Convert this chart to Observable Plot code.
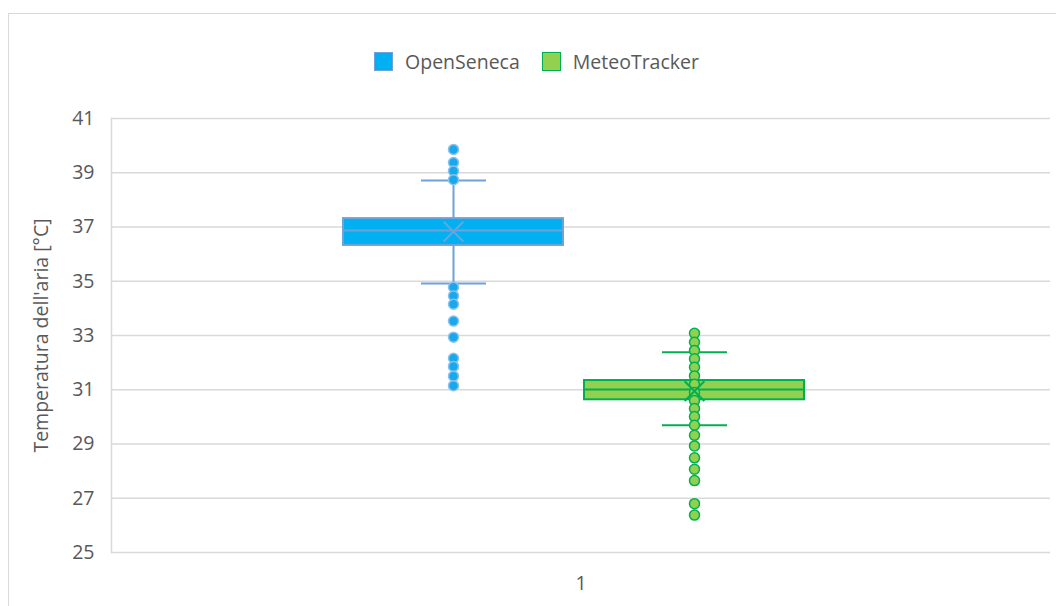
<!DOCTYPE html>
<html>
<head>
<meta charset="utf-8">
<script src="https://cdn.jsdelivr.net/npm/d3@7"></script>
<script src="https://cdn.jsdelivr.net/npm/@observablehq/plot@0.6"></script>
<style>
  html, body { margin: 0; padding: 0; background: #fff; overflow: hidden; }
  body { width: 1056px; height: 606px; position: relative; font-family: "Open Sans", sans-serif; }
  #frame { position: absolute; left: 8px; top: 13px; width: 1200px; height: 700px; border: 1.5px solid #d9d9d9; }
  #legend { position: absolute; left: 0; top: 48px; width: 1056px; display: flex; justify-content: center; font-size: 19.5px; color: #595959; padding-left: 17px; box-sizing: border-box; }
  .item { display: flex; align-items: center; margin: 0 11px; }
  .sw { width: 19px; height: 19px; box-sizing: border-box; margin-right: 12px; }
  #chart { position: absolute; left: 0; top: 0; }
</style>
</head>
<body>
<div id="frame"></div>
<div id="legend"></div>
<div id="chart"></div>
<script>
// ---- data ----
const category = "1";
const seriesNames = ["OpenSeneca", "MeteoTracker"];
const q1 = [36.32, 30.63];
const median = [36.87, 31.01];
const q3 = [37.31, 31.34];
const whiskerLow = [34.92, 29.69];
const whiskerHigh = [38.71, 32.38];
const meanValues = [36.83, 30.95];
const pointsOpenSeneca = [39.86, 39.38, 39.06, 38.74, 34.78, 34.46, 34.15, 33.53, 32.94, 32.16, 31.86, 31.50, 31.15];
const pointsMeteoTracker = [33.08, 32.75, 32.45, 32.14, 31.83, 31.51, 31.20, 30.90, 30.60, 30.31, 30.01, 29.69, 29.32, 28.93, 28.49, 28.07, 27.65, 26.80, 26.38];
const yTicks = [25, 27, 29, 31, 33, 35, 37, 39, 41];

const fills = ["#00B0F0", "#92D050"];
const edges = ["#6FA2DA", "#00B050"];
const dotFills = ["#1AA8EC", "#92D050"];
const dotStrokes = ["#8CC3EE", "#00B050"];

// ---- tables ----
const boxes = seriesNames.map((s, i) => ({
  cat: category, series: s, q1: q1[i], median: median[i], q3: q3[i],
  lo: whiskerLow[i], hi: whiskerHigh[i], mean: meanValues[i]
}));
const points = [
  ...pointsOpenSeneca.map(v => ({cat: category, series: seriesNames[0], value: v})),
  ...pointsMeteoTracker.map(v => ({cat: category, series: seriesNames[1], value: v}))
];

// legend
const legend = document.getElementById("legend");
seriesNames.forEach((s, i) => {
  const it = document.createElement("div");
  it.className = "item";
  const sw = document.createElement("div");
  sw.className = "sw";
  sw.style.background = fills[i];
  sw.style.border = `1.5px solid ${edges[i]}`;
  const t = document.createElement("span");
  t.textContent = s;
  it.appendChild(sw); it.appendChild(t);
  legend.appendChild(it);
});

const strokeScale = d3.scaleOrdinal(seriesNames, edges);
const dotFillScale = d3.scaleOrdinal(seriesNames, dotFills);
const dotStrokeScale = d3.scaleOrdinal(seriesNames, dotStrokes);

const chart = Plot.plot({
  width: 1056,
  height: 606,
  marginTop: 118,
  marginBottom: 54,
  marginLeft: 111,
  marginRight: 6,
  style: {fontFamily: "'Open Sans', sans-serif", fontSize: "19.5px", color: "#595959", background: "transparent"},
  fx: {domain: [category], padding: 0, label: null, axis: "bottom", tickSize: 0, tickPadding: 24},
  x: {domain: seriesNames, paddingInner: 0.087, paddingOuter: 0.99, align: 0.485, axis: null},
  y: {domain: [25, 41], ticks: yTicks, grid: false, label: "Temperatura dell'aria [°C]",
      labelAnchor: "center", labelArrow: "none", labelOffset: 77, tickSize: 0, tickPadding: 17},
  color: {domain: seriesNames, range: fills},
  marks: [
    Plot.gridY(yTicks, {stroke: "#d9d9d9", strokeOpacity: 1, strokeWidth: 1.5}),
    Plot.frame({anchor: "left", stroke: "#d9d9d9", strokeWidth: 1.5}),
    // whiskers
    Plot.ruleX(boxes, {fx: "cat", x: "series", y1: "lo", y2: "q1", stroke: d => strokeScale(d.series), strokeWidth: 2}),
    Plot.ruleX(boxes, {fx: "cat", x: "series", y1: "q3", y2: "hi", stroke: d => strokeScale(d.series), strokeWidth: 2}),
    Plot.tickY(boxes, {fx: "cat", x: "series", y: "lo", stroke: d => strokeScale(d.series), strokeWidth: 2, insetLeft: 78, insetRight: 77}),
    Plot.tickY(boxes, {fx: "cat", x: "series", y: "hi", stroke: d => strokeScale(d.series), strokeWidth: 2, insetLeft: 78, insetRight: 77}),
    // box
    Plot.barY(boxes, {fx: "cat", x: "series", y1: "q1", y2: "q3", fill: "series", stroke: d => strokeScale(d.series), strokeWidth: 2}),
    Plot.tickY(boxes, {fx: "cat", x: "series", y: "median", stroke: d => strokeScale(d.series), strokeWidth: 2}),
    // points
    Plot.dot(points, {fx: "cat", x: "series", y: "value", r: 5, fill: d => dotFillScale(d.series), stroke: d => dotStrokeScale(d.series), strokeWidth: 1.5}),
    // mean
    Plot.dot(boxes, {fx: "cat", x: "series", y: "mean", symbol: "times", r: 9, stroke: d => strokeScale(d.series), strokeWidth: 2})
  ]
});
chart.querySelectorAll("text").forEach(t => t.setAttribute("fill", "#595959"));
document.getElementById("chart").appendChild(chart);
</script>
</body>
</html>
